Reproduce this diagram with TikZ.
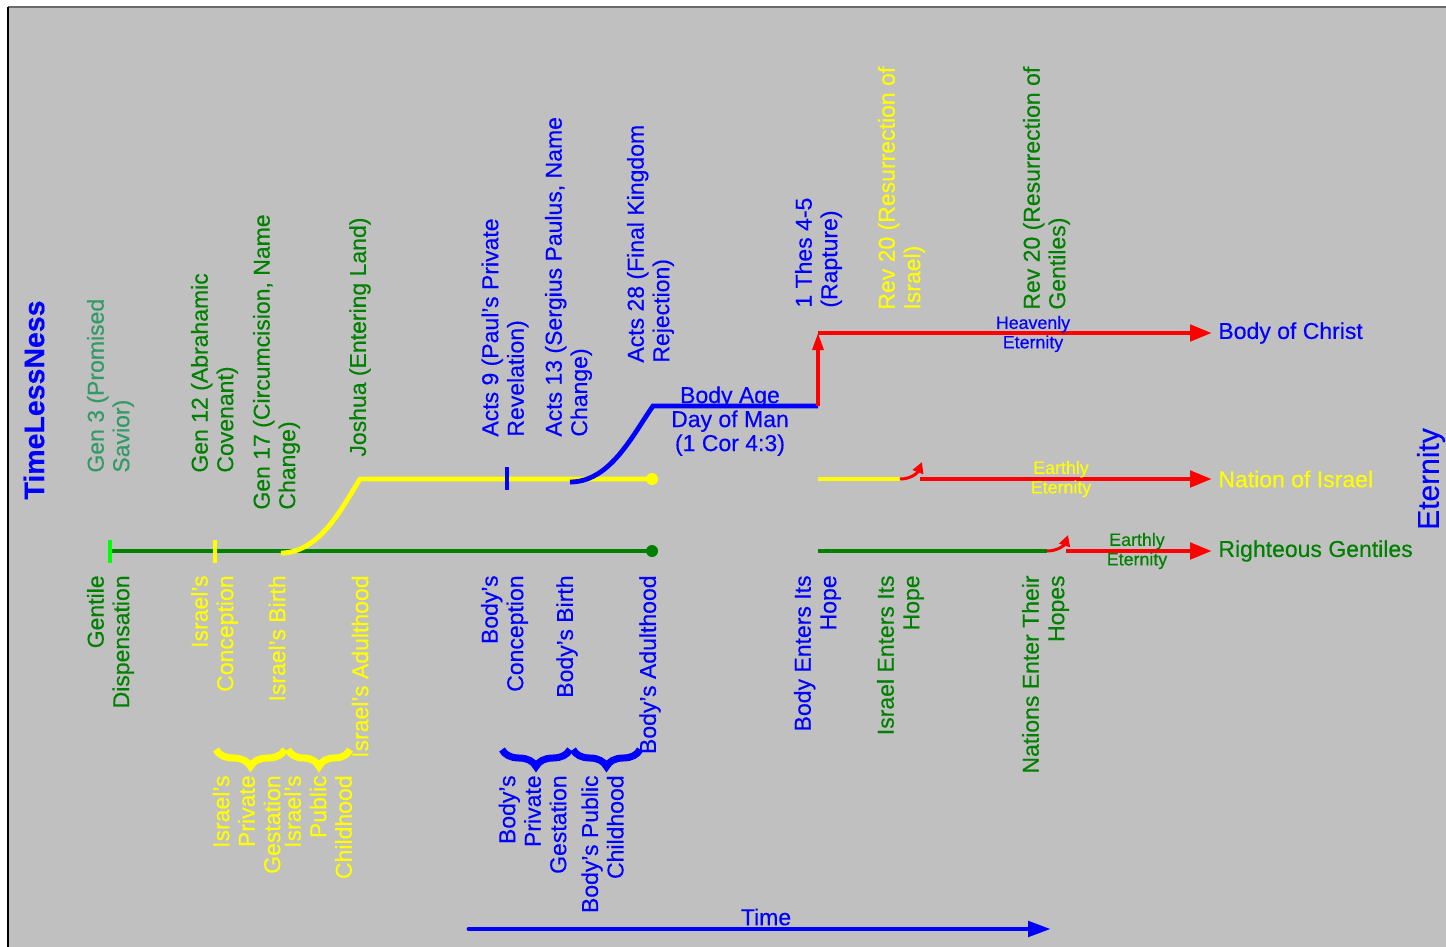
\documentclass[tikz,border=0pt]{standalone}
\usepackage{fontspec}
\setmainfont{Liberation Sans}[FakeBold=0.4]
\usetikzlibrary{arrows.meta,decorations.pathreplacing}
\definecolor{bg}{HTML}{C0C0C0}
\definecolor{gr}{HTML}{008000}
\definecolor{seagr}{HTML}{339966}
\definecolor{yl}{HTML}{FFFF00}
\definecolor{bl}{HTML}{0000FF}
\definecolor{rd}{HTML}{FF0000}
\definecolor{limec}{HTML}{00FF00}
\definecolor{topline}{HTML}{6A6A6A}
\tikzset{
  txt/.style={inner sep=0pt, font=\fontsize{11.5pt}{12.75pt}\selectfont},
  uplbl/.style={txt, rotate=90, anchor=west, align=left},
  downlbl/.style={txt, rotate=90, anchor=east, align=right},
  sml/.style={inner sep=0pt, font=\fontsize{8.9pt}{9.75pt}\selectfont, align=center},
  tline/.style={line width=2.4pt},
  bigarrow/.style={rd, line width=2.4pt, -{Triangle[length=11pt,width=8pt]}},
  uparrow/.style={rd, line width=1.6pt, -{Triangle[length=8.5pt,width=5.5pt]}},
  hookarrow/.style={rd, line width=1.5pt, -{Triangle[length=5.5pt,width=5.5pt]}},
  tickmark/.style={line width=2pt},
  bracestyle/.style={line width=3.5pt, decorate, decoration={brace, amplitude=8.5pt}},
  dotmark/.style={circle, inner sep=0pt, minimum size=6pt},
}
\begin{document}
\begin{tikzpicture}[x=0.5pt,y=-0.5pt]
\useasboundingbox (0,0) rectangle (1446,947);
\fill[white] (0,0) rectangle (1446,947);
\fill[bg] (8,7) rectangle (1446,947);
\draw[topline, line width=0.8pt] (8,7) -- (1446,7);
\draw[black, line width=0.8pt] (8,7) -- (8,947);

% coordinates
\coordinate (gS) at (110,551);
\coordinate (yC) at (281,553);
\coordinate (yT) at (360,479);
\coordinate (bC) at (570,482);
\coordinate (bT) at (653,406);
\coordinate (bE) at (818,406);
\coordinate (rT) at (818,333);
\coordinate (rE) at (1212,333);
\coordinate (y2S) at (818,479);
\coordinate (y2E) at (900,479);
\coordinate (hk1) at (922,462);
\coordinate (r2S) at (920,479);
\coordinate (r2E) at (1212,479);
\coordinate (g2S) at (818,551);
\coordinate (g2E) at (1047,551);
\coordinate (hk2) at (1068,535);
\coordinate (r3S) at (1066,551);
\coordinate (r3E) at (1212,551);
\coordinate (tS) at (469,929);
\coordinate (tE) at (1051,929);

% end dots
\node[dotmark, fill=gr] (gdot) at (652,551) {};
\node[dotmark, fill=yl] (ydot) at (652,479) {};

% left timelines
\draw[tline, gr] (gS) -- (gdot.center);
\draw[tline, yl] (yC) .. controls (320,553) and (343,506) .. (yT) -- (ydot.center);
\draw[tline, bl] (bC) .. controls (610,482) and (632,436) .. (bT) -- (bE);

% ticks
\draw[tickmark, limec] (110,540) -- (110,563);
\draw[tickmark, yl] (215,540) -- (215,563);
\draw[tickmark, bl] (507,467) -- (507,490);

% right side
\draw[uparrow] (bE) -- (rT);
\draw[bigarrow] (rT) -- (rE);
\draw[tline, yl] (y2S) -- (y2E);
\draw[hookarrow] (y2E) .. controls (912,479) and (918,472) .. (hk1);
\draw[bigarrow] (r2S) -- (r2E);
\draw[tline, gr] (g2S) -- (g2E);
\draw[hookarrow] (g2E) .. controls (1059,551) and (1065,544) .. (hk2);
\draw[bigarrow] (r3S) -- (r3E);

% time arrow
\draw[bl, line width=2.4pt, line cap=round, -{Triangle[length=11.5pt,width=7.5pt]}] (tS) -- (tE);
\node[txt, bl] (time) at (766,917) {Time};

% side titles
\node[inner sep=0pt, rotate=90, bl, font=\fontsize{14.25pt}{16pt}\selectfont\bfseries] (tless) at (34,400) {TimeLessNess};
\node[inner sep=0pt, rotate=90, bl, font=\fontsize{15pt}{17pt}\selectfont] (etern) at (1431,479) {Eternity};

% top labels
\node[uplbl, seagr] (gen3) at (110.5,473) {Gen 3 (Promised\\Savior)};
\node[uplbl, gr] (gen12) at (214.5,473) {Gen 12 (Abrahamic\\Covenant)};
\node[uplbl, gr] (gen17) at (276.5,510) {Gen 17 (Circumcision, Name\\Change)};
\node[uplbl, gr] (joshua) at (360,457) {Joshua (Entering Land)};
\node[uplbl, bl] (acts9) at (505,437) {Acts 9 (Paul’s Private\\Revelation)};
\node[uplbl, bl] (acts13) at (568.5,437) {Acts 13 (Sergius Paulus, Name\\Change)};
\node[uplbl, bl] (acts28) at (650.5,363) {Acts 28 (Final Kingdom\\Rejection)};
\node[uplbl, bl] (thes) at (818.5,308) {1 Thes 4-5\\(Rapture)};
\node[uplbl, yl] (rev20i) at (901.5,310) {Rev 20 (Resurrection of\\Israel)};
\node[uplbl, gr] (rev20g) at (1046.5,310) {Rev 20 (Resurrection of\\Gentiles)};

% bottom labels
\node[downlbl, gr] (gentdisp) at (110.5,575) {Gentile\\Dispensation};
\node[downlbl, yl] (isrconc) at (214.5,575) {Israel’s\\Conception};
\node[downlbl, yl] (isrbirth) at (277,575) {Israel’s Birth};
\node[downlbl, yl] (isradult) at (360,575) {Israel’s Adulthood};
\node[downlbl, bl] (bodyconc) at (504.5,575) {Body’s\\Conception};
\node[downlbl, bl] (bodybirth) at (567,575) {Body’s Birth};
\node[downlbl, bl] (bodyadult) at (650,575) {Body’s Adulthood};
\node[downlbl, bl] (bodyhope) at (817.5,575) {Body Enters Its\\Hope};
\node[downlbl, gr] (isrhope) at (900.5,575) {Israel Enters Its\\Hope};
\node[downlbl, gr] (nathope) at (1045.5,575) {Nations Enter Their\\Hopes};

% braces
\draw[bracestyle, yl] (285,749.5) -- (216,749.5);
\draw[bracestyle, yl] (350,749.5) -- (288,749.5);
\draw[bracestyle, bl] (570,749.5) -- (502,749.5);
\draw[bracestyle, bl] (640,749.5) -- (573,749.5);

\node[downlbl, yl] (isrgest) at (246.5,775) {Israel’s\\Private\\Gestation};
\node[downlbl, yl] (isrchild) at (318,775) {Israel’s\\Public\\Childhood};
\node[downlbl, bl] (bodygest) at (532.5,775) {Body’s\\Private\\Gestation};
\node[downlbl, bl] (bodychild) at (602.5,775) {Body’s Public\\Childhood};

% middle labels
\node[txt, bl, align=center, anchor=north, font=\fontsize{11.5pt}{12pt}\selectfont] (bodyage) at (730,386) {Body Age\\Day of Man\\(1 Cor 4:3)};
\node[sml, bl] (heav) at (1033,334) {Heavenly\\Eternity};
\node[sml, yl] (earthy) at (1061,479) {Earthly\\Eternity};
\node[sml, gr] (earthg) at (1137,551) {Earthly\\Eternity};

% right labels
\node[txt, bl, anchor=west] (boc) at (1218,333) {Body of Christ};
\node[txt, yl, anchor=west] (noi) at (1218,479) {Nation of Israel};
\node[txt, gr, anchor=west] (rg) at (1218,551) {Righteous Gentiles};
\end{tikzpicture}
\end{document}
